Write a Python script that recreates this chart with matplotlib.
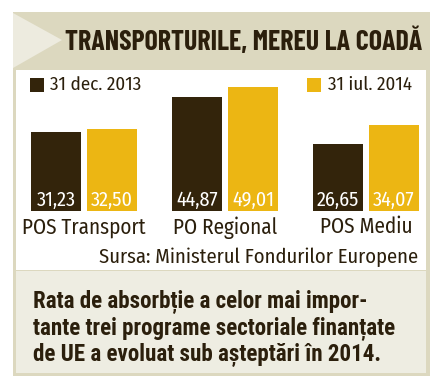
import matplotlib
matplotlib.use('Agg')
import matplotlib.pyplot as plt
from matplotlib.patches import Rectangle, Polygon
import numpy as np

# ---- data ----
categories = ["POS Transport", "PO Regional", "POS Mediu"]
dec_2013 = [31.23, 44.87, 26.65]
iul_2014 = [32.50, 49.01, 34.07]
series_names = ["31 dec. 2013", "31 iul. 2014"]
title = "TRANSPORTURILE, MEREU LA COADĂ"
source = "Sursa: Ministerul Fondurilor Europene"
note_lines = ["Rata de absorbție a celor mai impor-",
              "tante trei programe sectoriale finanțate",
              "de UE a evoluat sub așteptări în 2014."]

# ---- style ----
W, H = 441, 389
DARK = '#33240b'
YELLOW = '#ecb613'
BEIGE = '#dcd8bf'
LIGHT = '#eeede2'
TEXT = '#2b1f0c'
COND = 'Fira Sans Condensed'
BOLD = 'Roboto Condensed'
TITLE_FONT = 'Barlow Condensed'

fig = plt.figure(figsize=(W / 100, H / 100), dpi=100)

# background axes in pixel coords (y down)
bg = fig.add_axes([0, 0, 1, 1])
bg.set_xlim(0, W)
bg.set_ylim(H, 0)
bg.axis('off')

bg.add_patch(Rectangle((13, 12), 417, 364, color=BEIGE, lw=0))
bg.add_patch(Polygon([(13, 13), (62, 40), (13, 68)], closed=True, color='#edebdf', lw=0))
bg.add_patch(Rectangle((16, 70), 410, 200, color='white', lw=0))
bg.add_patch(Rectangle((16, 271), 410, 102, color=LIGHT, lw=0))

bg.text(422, 41, title, ha='right', va='center', family=TITLE_FONT, weight='bold',
        fontsize=20.1, color=TEXT)

# legend
bg.add_patch(Rectangle((30, 78), 14, 14, color=DARK, lw=0))
bg.text(50, 85, series_names[0], ha='left', va='center', family=COND,
        fontsize=13.7, color=TEXT)
bg.add_patch(Rectangle((307, 78), 14, 14, color=YELLOW, lw=0))
bg.text(328, 85, series_names[1], ha='left', va='center', family=COND,
        fontsize=13.7, color=TEXT)

bg.text(418, 257, source, ha='right', va='center', family=COND,
        fontsize=14.8, color=TEXT)

for i, line in enumerate(note_lines):
    bg.text(33, 302 + i * 26.5, line, ha='left', va='center', family=BOLD,
            weight='bold', fontsize=16.6, color=TEXT)

# ---- bars ----
base_y, top_y, left_x, right_x = 211, 70, 16, 426
px_per_unit = 2.53
group_step = 141
first_center = 84
ax = fig.add_axes([left_x / W, (H - base_y) / H, (right_x - left_x) / W, (base_y - top_y) / H])
ax.patch.set_alpha(0)
ax.set_ylim(0, (base_y - top_y) / px_per_unit)
ax.set_xlim((left_x - first_center) / group_step, (right_x - first_center) / group_step)

x = np.arange(len(categories))
bw = 50 / group_step
off = 28 / group_step
b1 = ax.bar(x - off, dec_2013, bw, color=DARK)
b2 = ax.bar(x + off, iul_2014, bw, color=YELLOW)
for bars, vals in ((b1, dec_2013), (b2, iul_2014)):
    for b, v in zip(bars, vals):
        ax.annotate(f"{v:.2f}".replace('.', ','), (b.get_x() + b.get_width() / 2, 0),
                    xytext=(0, 8), textcoords='offset points', ha='center', va='center',
                    family=COND, fontsize=14.5, color='white')

ax.set_xticks(x, categories, family=COND, fontsize=15.2, color=TEXT)
ax.tick_params(axis='x', length=0, pad=4)
ax.set_yticks([])
for s in ax.spines.values():
    s.set_visible(False)

fig.savefig('out.png', dpi=100)
